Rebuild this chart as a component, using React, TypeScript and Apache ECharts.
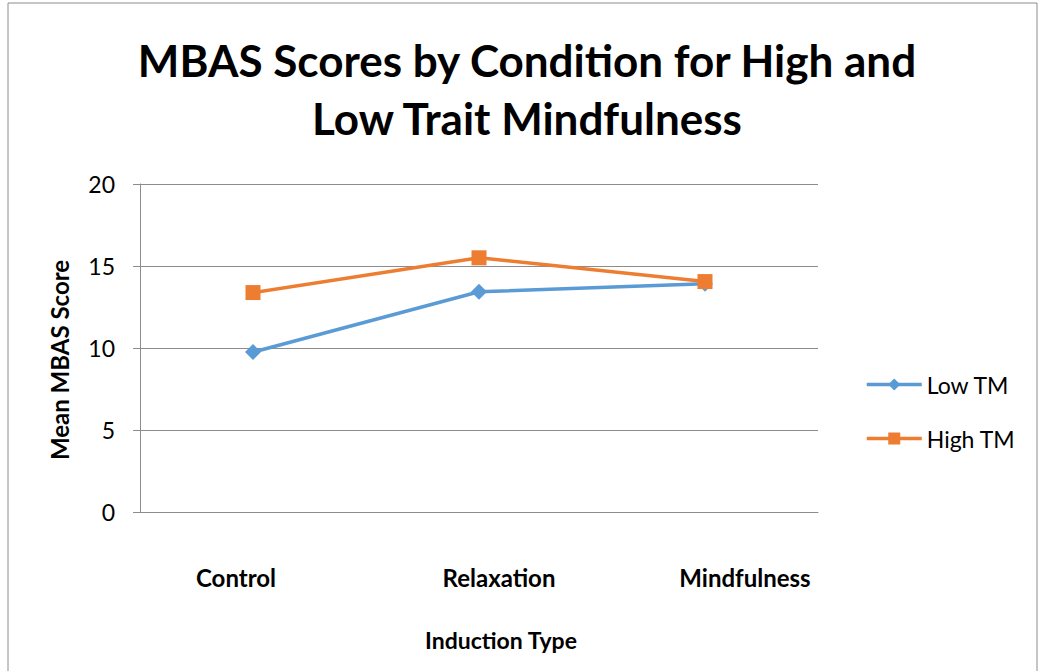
import React, { useEffect, useRef } from "react";
import * as echarts from "echarts";

const categories = ["Control", "Relaxation", "Mindfulness"];
const lowTM = [9.75, 13.43, 13.92];
const highTM = [13.38, 15.5, 14.05];
const yTicks = [0, 5, 10, 15, 20];
// horizontal shift (px) of each category label, as in the reference
const labelShift = [-17, 20, 40];

const FONT = "Lato, 'Open Sans', sans-serif";

export default function App() {
  const ref = useRef<HTMLDivElement>(null);
  useEffect(() => {
    if (!ref.current) return;
    const chart = echarts.init(ref.current, undefined, { renderer: "svg" });
    const catData = categories.map((c, i) => {
      const s = labelShift[i];
      return {
        value: c,
        textStyle: {
          padding: s >= 0 ? [0, 0, 0, 2 * s] : [0, -2 * s, 0, 0],
        },
      };
    });
    chart.setOption({
      animation: false,
      backgroundColor: "#ffffff",
      textStyle: { fontFamily: FONT },
      grid: { left: 140, top: 184, width: 678, height: 328, containLabel: false },
      graphic: [
        {
          type: "rect",
          shape: { x: 8, y: 3, width: 1029, height: 720 },
          style: { fill: "none", stroke: "#8c8c8c", lineWidth: 1 },
          silent: true,
        },
        {
          type: "text",
          x: 527,
          y: 89,
          style: {
            text: "MBAS Scores by Condition for High and\nLow Trait Mindfulness",
            fontFamily: FONT,
            fontWeight: "bold",
            fontSize: 44,
            lineHeight: 58,
            fill: "#000",
            align: "center",
            verticalAlign: "middle",
          },
        },
        {
          type: "text",
          x: 501,
          y: 640,
          style: {
            text: "Induction Type",
            fontFamily: FONT,
            fontWeight: "bold",
            fontSize: 23,
            fill: "#000",
            align: "center",
            verticalAlign: "middle",
          },
        },
        {
          type: "text",
          x: 59,
          y: 360,
          rotation: Math.PI / 2,
          style: {
            text: "Mean MBAS Score",
            fontFamily: FONT,
            fontWeight: "bold",
            fontSize: 24,
            fill: "#000",
            align: "center",
            verticalAlign: "middle",
          },
        },
      ],
      legend: {
        orient: "vertical",
        left: 860,
        top: 368,
        itemWidth: 55,
        itemHeight: 15,
        itemGap: 31,
        itemTextGap: 5,
        lineStyle: { width: 3.5 },
        textStyle: { fontFamily: FONT, fontSize: 23, color: "#000" },
        data: ["Low TM", "High TM"],
      },
      xAxis: {
        type: "category",
        data: catData,
        boundaryGap: true,
        axisLine: { show: true, lineStyle: { color: "#8c8c8c", width: 1 } },
        axisTick: { show: false },
        axisLabel: {
          interval: 0,
          margin: 53,
          fontFamily: FONT,
          fontWeight: "bold",
          fontSize: 24,
          color: "#000",
        },
      },
      yAxis: {
        type: "value",
        min: 0,
        max: 20,
        interval: 5,
        axisLine: { show: true, lineStyle: { color: "#8c8c8c", width: 1 } },
        axisTick: { show: true, length: 7, lineStyle: { color: "#8c8c8c" } },
        axisLabel: {
          margin: 25,
          fontFamily: FONT,
          fontSize: 23,
          color: "#000",
          formatter: (v: number) => (yTicks.includes(v) ? String(v) : ""),
        },
        splitLine: { show: true, lineStyle: { color: "#8c8c8c", width: 1 } },
      },
      series: [
        {
          name: "Low TM",
          type: "line",
          data: lowTM,
          color: "#5B9BD5",
          lineStyle: { width: 3.5, color: "#5B9BD5" },
          symbol: "diamond",
          symbolSize: 16,
          itemStyle: { color: "#5B9BD5" },
        },
        {
          name: "High TM",
          type: "line",
          data: highTM,
          color: "#ED7D31",
          lineStyle: { width: 3.5, color: "#ED7D31" },
          symbol: "rect",
          symbolSize: 15,
          itemStyle: { color: "#ED7D31" },
        },
      ],
    });
    return () => chart.dispose();
  }, []);
  return (
    <div
      ref={ref}
      style={{ position: "absolute", left: 0, top: 0, width: 1039, height: 671 }}
    />
  );
}
